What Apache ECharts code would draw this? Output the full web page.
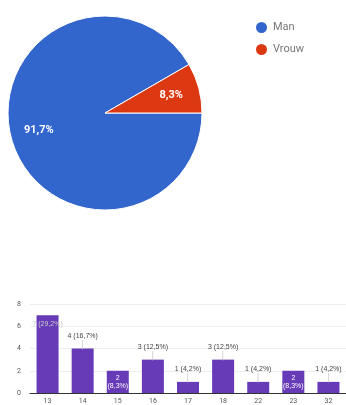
<!DOCTYPE html>
<html>
<head>
<meta charset="utf-8">
<script src="https://cdn.jsdelivr.net/npm/echarts@6/dist/echarts.min.js"></script>
<style>
  html, body { margin: 0; padding: 0; background: #fff; }
  #chart { width: 346px; height: 405px; }
</style>
</head>
<body>
<div id="chart"></div>
<script>
// geslacht
const genderNames = ['Man', 'Vrouw']
const genderValues = [22, 2]
const genderLabels = ['91,7%', '8,3%']

// leeftijd
const ageCats = ['13', '14', '15', '16', '17', '18', '22', '23', '32']
const ageValues = [7, 4, 2, 3, 1, 3, 1, 2, 1]
const ageLabels = ['7 (29,2%)', '4 (16,7%)', '2\n(8,3%)', '3 (12,5%)', '1 (4,2%)',
  '3 (12,5%)', '1 (4,2%)', '2\n(8,3%)', '1 (4,2%)']
const yTicks = [0, 2, 4, 6, 8]

const chart = echarts.init(document.getElementById('chart'))

const pieData = genderNames.map((n, i) => ({ name: n, value: genderValues[i] }))

// labels that sit inside the bar vs above it
const insideIdx = [0, 2, 7]

const option = {
  animation: false,
  color: ['#3366cc', '#dc3912'],
  legend: {
    data: genderNames,
    orient: 'vertical',
    left: 249,
    top: 15,
    icon: 'circle',
    itemWidth: 13,
    itemHeight: 13,
    itemGap: 7,
    textStyle: { fontSize: 11, color: '#777', fontFamily: 'Roboto' }
  },
  grid: { left: 30, right: 0, top: 304, bottom: 9 },
  xAxis: {
    type: 'category',
    data: ageCats,
    axisTick: { show: false },
    axisLine: { lineStyle: { color: '#333' } },
    axisLabel: { fontSize: 7, color: '#555', margin: 5, fontFamily: 'Roboto' }
  },
  yAxis: {
    type: 'value',
    min: 0,
    max: 8,
    interval: 2,
    axisLabel: {
      fontSize: 7, color: '#555', margin: 9, fontFamily: 'Roboto',
      formatter: v => yTicks.includes(v) ? String(v) : ''
    },
    splitLine: { lineStyle: { color: '#eeeeee' } }
  },
  series: [
    {
      type: 'pie',
      center: [105, 113],
      radius: [0, 97],
      startAngle: 0,
      clockwise: true,
      label: { show: false },
      labelLine: { show: false },
      itemStyle: { borderColor: '#fff', borderWidth: 1 },
      data: pieData
    },
    {
      // alleen voor de labels
      type: 'pie',
      center: [105, 113],
      radius: [34, 97],
      startAngle: 0,
      clockwise: true,
      silent: true,
      itemStyle: { color: 'rgba(0,0,0,0)' },
      label: {
        show: true,
        position: 'inside',
        color: '#fff',
        fontSize: 11,
        fontWeight: 'bold',
        fontFamily: 'Roboto',
        formatter: p => genderLabels[p.dataIndex]
      },
      labelLine: { show: false },
      data: pieData
    },
    {
      type: 'bar',
      barWidth: 22,
      itemStyle: { color: '#673ab7' },
      data: ageValues.map((v, i) => ({
        value: v,
        label: insideIdx.includes(i)
          ? {
              show: true,
              position: 'insideTop',
              distance: i === 0 ? 5 : 3,
              color: i === 0 ? '#ccc' : '#fff',
              fontSize: 7,
              lineHeight: 8,
              overflow: 'none',
              width: 60,
              formatter: () => ageLabels[i]
            }
          : {
              show: true,
              position: 'top',
              distance: 0,
              formatter: () => ageLabels[i] + '\n{s|│}',
              color: '#444',
              fontSize: 7,
              lineHeight: 9,
              rich: { s: { color: '#bbb', fontSize: 8, lineHeight: 8 } }
            }
      }))
    }
  ]
}

chart.setOption(option)
</script>
</body>
</html>
